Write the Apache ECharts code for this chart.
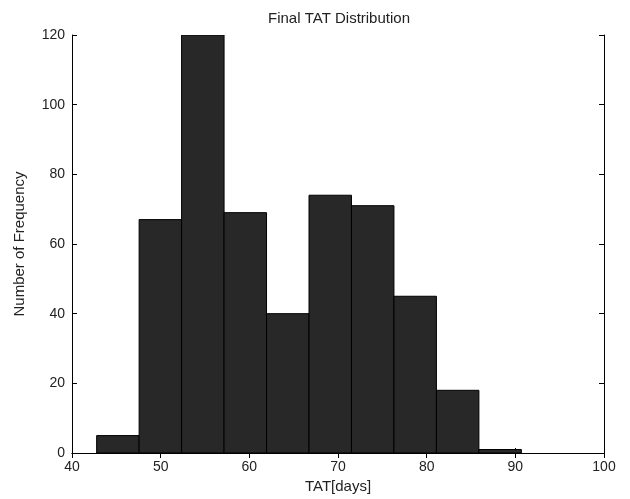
<!DOCTYPE html>
<html>
<head>
    <meta charset="utf-8">
    <title>Final TAT Distribution</title>
    <script src="https://cdn.jsdelivr.net/npm/echarts@6/dist/echarts.min.js"></script>
</head>
<body style="margin:0;background:#fff;">
    <div id="chart" style="width:630px;height:499px;"></div>
    <script type="text/javascript">
        // bin edges (days) and counts
        var binStart = [42.78, 47.57, 52.36, 57.15, 61.94, 66.73, 71.52, 76.31, 81.10, 85.89];
        var binEnd   = [47.57, 52.36, 57.15, 61.94, 66.73, 71.52, 76.31, 81.10, 85.89, 90.68];
        var counts   = [5, 67, 120, 69, 40, 74, 71, 45, 18, 1];
        var xTicks = [40, 50, 60, 70, 80, 90, 100];
        var yTicks = [0, 20, 40, 60, 80, 100, 120];

        var data = counts.map(function (c, i) { return [binStart[i], binEnd[i], c]; });

        var font = 'Liberation Sans, Arial, sans-serif';
        var lineStyle = { color: '#000', width: 1 };
        var myChart = echarts.init(document.getElementById('chart'));
        var option = {
            animation: false,
            backgroundColor: '#fff',
            title: {
                text: 'Final TAT Distribution',
                left: 334, top: 6, textAlign: 'center',
                textStyle: { fontSize: 15, fontWeight: 'normal', color: '#222', fontFamily: font }
            },
            grid: { left: 72, right: 26, top: 35, bottom: 44 },
            xAxis: [{
                type: 'value', min: xTicks[0], max: xTicks[xTicks.length - 1], interval: 10,
                name: 'TAT[days]', nameLocation: 'middle', nameGap: 26,
                nameTextStyle: { fontSize: 15, color: '#222', fontFamily: font },
                axisLine: { show: true, lineStyle: lineStyle },
                axisTick: { show: true, inside: true, length: 5, lineStyle: lineStyle },
                axisLabel: { fontSize: 14, color: '#222', fontFamily: font, margin: 7 },
                splitLine: { show: false }
            }, {
                type: 'value', position: 'top', min: xTicks[0], max: xTicks[xTicks.length - 1], interval: 10,
                axisLine: { show: true, lineStyle: lineStyle },
                axisTick: { show: true, inside: true, length: 5, lineStyle: lineStyle },
                axisLabel: { show: false },
                splitLine: { show: false }
            }],
            yAxis: [{
                type: 'value', min: yTicks[0], max: yTicks[yTicks.length - 1], interval: 20,
                name: 'Number of Frequency', nameLocation: 'middle', nameGap: 45,
                nameTextStyle: { fontSize: 15, color: '#222', fontFamily: font },
                axisLine: { show: true, lineStyle: lineStyle },
                axisTick: { show: true, inside: true, length: 5, lineStyle: lineStyle },
                axisLabel: { fontSize: 14, color: '#222', fontFamily: font, margin: 7 },
                splitLine: { show: false }
            }, {
                type: 'value', position: 'right', min: yTicks[0], max: yTicks[yTicks.length - 1], interval: 20,
                axisLine: { show: true, lineStyle: lineStyle },
                axisTick: { show: true, inside: true, length: 5, lineStyle: lineStyle },
                axisLabel: { show: false },
                splitLine: { show: false }
            }],
            series: [{
                type: 'custom',
                xAxisIndex: 0, yAxisIndex: 0,
                clip: true,
                data: data,
                renderItem: function (params, api) {
                    var p0 = api.coord([api.value(0), api.value(2)]);
                    var p1 = api.coord([api.value(1), 0]);
                    return {
                        type: 'rect',
                        shape: { x: p0[0], y: p0[1], width: p1[0] - p0[0], height: p1[1] - p0[1] },
                        style: { fill: '#282828', stroke: '#000', lineWidth: 1 }
                    };
                }
            }]
        };
        myChart.setOption(option);
    </script>
</body>
</html>
